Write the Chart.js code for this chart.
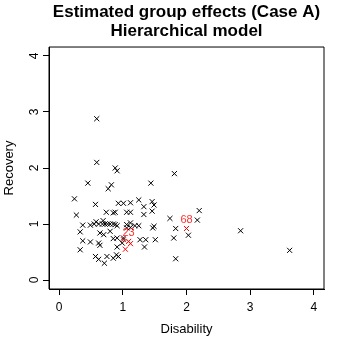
<!DOCTYPE html>
<html>
<head>
<meta charset="utf-8">
<script src="https://cdn.jsdelivr.net/npm/chart.js@4"></script>
<style>
  html, body { margin: 0; padding: 0; background: #fff; }
  #wrap { width: 349px; height: 349px; }
</style>
</head>
<body>
<div id="wrap"><canvas id="myChart" width="349" height="349"></canvas></div>
<script>
// group effects
const disability = [
  0.59, 0.59, 0.88, 0.91, 0.45, 0.82, 0.77, 1.44, 1.81, 0.24,
  0.57, 0.93, 1.01, 1.12, 1.25, 1.33, 1.46, 1.49, 1.46, 0.27,
  0.74, 0.85, 0.88, 1.06, 1.12, 1.33, 1.74, 0.37, 0.49, 0.58,
  0.69, 0.55, 0.62, 0.68, 0.72, 0.76, 0.80, 0.85, 0.88, 1.06,
  1.12, 1.19, 1.25, 1.49, 1.47, 0.91, 1.06, 1.12, 0.33, 0.64,
  0.70, 0.80, 0.85, 0.37, 0.49, 0.62, 0.64, 0.33, 0.91, 0.57,
  0.62, 0.75, 0.85, 0.71, 0.90, 0.91, 1.01, 1.27, 1.36, 1.51,
  0.99, 1.34, 0.93, 1.83, 1.80, 1.83, 2.20, 2.17, 2.03, 2.85,
  3.62
];
const recovery = [
  2.88, 2.10, 2.00, 1.95, 1.73, 1.70, 1.63, 1.73, 1.90, 1.45,
  1.35, 1.37, 1.37, 1.38, 1.43, 1.31, 1.40, 1.34, 1.23, 1.16,
  1.21, 1.20, 1.21, 1.21, 1.21, 1.17, 1.10, 0.98, 0.98, 1.04,
  1.06, 1.00, 1.00, 1.00, 1.00, 1.00, 1.00, 1.00, 0.99, 0.99,
  1.02, 0.97, 0.97, 0.96, 0.93, 0.97, 0.93, 0.94, 0.86, 0.84,
  0.81, 0.87, 0.74, 0.70, 0.68, 0.66, 0.62, 0.54, 0.59, 0.42,
  0.37, 0.42, 0.39, 0.30, 0.45, 0.75, 0.75, 0.72, 0.72, 0.72,
  0.66, 0.59, 0.42, 0.92, 0.75, 0.38, 1.24, 1.07, 0.80, 0.88,
  0.53
];

// highlighted groups (red)
const redDisability = [1.01, 1.09, 1.12, 1.04, 2.00];
const redRecovery = [0.72, 0.69, 0.65, 0.55, 0.92];
const redLabels = ['', '23', '', '', '68'];

const xTicks = [0, 1, 2, 3, 4];
const yTicks = [0, 1, 2, 3, 4];

const blackPts = disability.map((d, i) => ({ x: d, y: recovery[i] }));
const redPts = redDisability.map((d, i) => ({ x: d, y: redRecovery[i] }));

const FONT = 'Liberation Sans, Arial, Helvetica, sans-serif';

// full box round the plot region
const boxBorder = {
  id: 'boxBorder',
  afterDraw(chart) {
    const { ctx, chartArea: { left, top, right, bottom } } = chart;
    ctx.save();
    ctx.strokeStyle = '#000';
    ctx.lineWidth = 1;
    ctx.beginPath();
    ctx.moveTo(left, bottom);
    ctx.lineTo(left, top);
    ctx.lineTo(right, top);
    ctx.lineTo(right, bottom);
    ctx.lineTo(left, bottom);
    ctx.stroke();
    ctx.restore();
  }
};

// labels over the red points
const redText = {
  id: 'redText',
  afterDatasetsDraw(chart) {
    const { ctx, scales: { x, y } } = chart;
    ctx.save();
    ctx.fillStyle = '#ff3030';
    ctx.font = '11px ' + FONT;
    ctx.textAlign = 'center';
    ctx.textBaseline = 'bottom';
    redLabels.forEach((lab, i) => {
      if (!lab) return;
      ctx.fillText(lab, x.getPixelForValue(redDisability[i]), y.getPixelForValue(redRecovery[i]) - 3);
    });
    ctx.restore();
  }
};

new Chart(document.getElementById('myChart'), {
  type: 'scatter',
  data: {
    datasets: [
      {
        label: 'groups',
        data: blackPts,
        pointStyle: 'crossRot',
        radius: 3.6,
        borderWidth: 1,
        borderColor: '#000',
        backgroundColor: '#000'
      },
      {
        label: 'highlighted',
        data: redPts,
        pointStyle: 'crossRot',
        radius: 3.6,
        borderWidth: 1,
        borderColor: '#ff0000',
        backgroundColor: '#ff0000'
      }
    ]
  },
  options: {
    responsive: false,
    animation: false,
    layout: { padding: { left: 0, right: 25, top: 0, bottom: 0 } },
    plugins: {
      legend: { display: false },
      tooltip: { enabled: false },
      title: {
        display: true,
        fullSize: false,
        text: ['Estimated group effects (Case A)', 'Hierarchical model'],
        color: '#000',
        font: { family: FONT, size: 17, weight: 'bold', lineHeight: 1.08 },
        padding: { top: 3.5, bottom: 6.8 }
      }
    },
    scales: {
      x: {
        type: 'linear',
        min: -0.16,
        max: 4.16,
        afterBuildTicks(scale) { scale.ticks = xTicks.map(v => ({ value: v })); },
        afterFit(scale) { scale.height = 60; },
        grid: { display: true, drawOnChartArea: false, drawTicks: true, tickLength: 6, color: '#000', tickColor: '#000' },
        border: { display: true, color: '#000', width: 1 },
        ticks: { color: '#000', padding: 5, maxRotation: 0, font: { family: FONT, size: 12 } },
        title: { display: true, text: 'Disability', color: '#000', padding: { top: 0, bottom: 12 }, font: { family: FONT, size: 13 } }
      },
      y: {
        type: 'linear',
        min: -0.16,
        max: 4.16,
        afterBuildTicks(scale) { scale.ticks = yTicks.map(v => ({ value: v })); },
        afterFit(scale) { scale.width = 49; },
        grid: { display: true, drawOnChartArea: false, drawTicks: true, tickLength: 6, color: '#000', tickColor: '#000' },
        border: { display: true, color: '#000', width: 1 },
        ticks: { color: '#000', padding: 5, minRotation: 90, maxRotation: 90, crossAlign: 'center', font: { family: FONT, size: 12 } },
        title: { display: true, text: 'Recovery', color: '#000', padding: { top: 2, bottom: 0 }, font: { family: FONT, size: 13 } }
      }
    }
  },
  plugins: [boxBorder, redText]
});
</script>
</body>
</html>
